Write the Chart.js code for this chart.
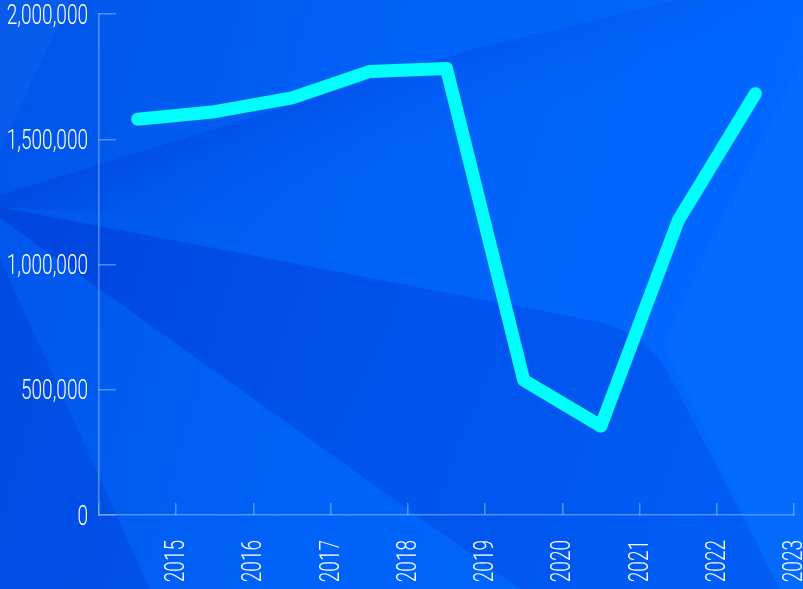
<!DOCTYPE html>
<html>
<head>
<meta charset="utf-8">
<script src="https://cdn.jsdelivr.net/npm/chart.js@4.4.0/dist/chart.umd.min.js"></script>
<style>
  html, body { margin: 0; padding: 0; overflow: hidden; background: #0060f2; }
  #wrap { width: 803px; height: 589px; position: relative; }
</style>
</head>
<body>
<div id="wrap"><canvas id="chart"></canvas></div>
<script>
// points sit half way between the year ticks
const pointYears = [2014.5, 2015.5, 2016.5, 2017.5, 2018.5, 2019.5, 2020.5, 2021.5, 2022.5];
const values = [1580000, 1610000, 1665000, 1770000, 1782000, 538000, 355000, 1175000, 1682000];
const tickYears = [2015, 2016, 2017, 2018, 2019, 2020, 2021, 2022, 2023];
const yTicks = [0, 500000, 1000000, 1500000, 2000000];

const AXIS = 'rgba(150,190,255,0.55)';
const LABEL_FONT = '300 28px Roboto, "DejaVu Sans", sans-serif';
const SQUEEZE = 0.68; // the original uses a condensed face

// background: blue gradient with faceted shapes
const backdrop = {
  id: 'backdrop',
  beforeDraw(chart) {
    const ctx = chart.ctx;
    const w = chart.width, h = chart.height;
    ctx.save();
    const g = ctx.createLinearGradient(0, 0, w, h * 0.4);
    g.addColorStop(0, '#0054e8');
    g.addColorStop(0.5, '#0062f8');
    g.addColorStop(1, '#0068ff');
    ctx.fillStyle = g;
    ctx.fillRect(0, 0, w, h);

    function path(pts) {
      ctx.beginPath();
      ctx.moveTo(pts[0][0], pts[0][1]);
      for (let i = 1; i < pts.length; i++) ctx.lineTo(pts[i][0], pts[i][1]);
      ctx.closePath();
    }
    // top band, darker just under its edge, fading downwards
    const tg = ctx.createLinearGradient(300, 90, 340, 200);
    tg.addColorStop(0, 'rgba(0,45,200,0.28)');
    tg.addColorStop(1, 'rgba(0,90,255,0)');
    path([[0, 195], [470, 50], [803, -30], [803, 260], [0, 207]]);
    ctx.fillStyle = tg;
    ctx.fill();
    path([[0, 150], [70, 0], [0, 0]]);
    ctx.fillStyle = 'rgba(60,140,255,0.12)';
    ctx.fill();
    // dark wedge going to the bottom
    ctx.beginPath();
    ctx.moveTo(0, 207);
    ctx.lineTo(600, 322);
    ctx.quadraticCurveTo(648, 334, 672, 380);
    ctx.lineTo(780, 589);
    ctx.lineTo(520, 589);
    ctx.lineTo(0, 218);
    ctx.closePath();
    const dg = ctx.createLinearGradient(0, 250, 700, 589);
    dg.addColorStop(0, 'rgba(0,40,200,0.38)');
    dg.addColorStop(1, 'rgba(0,40,200,0.18)');
    ctx.fillStyle = dg;
    ctx.fill();
    // left lower strip
    path([[0, 258], [150, 589], [0, 589]]);
    ctx.fillStyle = 'rgba(0,45,200,0.25)';
    ctx.fill();
    // soft lighter area on the right
    ctx.beginPath();
    ctx.moveTo(803, 60);
    ctx.quadraticCurveTo(700, 260, 665, 345);
    ctx.lineTo(780, 589);
    ctx.lineTo(803, 589);
    ctx.closePath();
    ctx.fillStyle = 'rgba(40,130,255,0.12)';
    ctx.fill();
    ctx.restore();
  }
};

// tick labels in a narrow face, placed from the scales
const narrowLabels = {
  id: 'narrowLabels',
  afterDraw(chart) {
    const ctx = chart.ctx;
    const xs = chart.scales.x, ys = chart.scales.y;
    ctx.save();
    ctx.fillStyle = '#ffffff';
    ctx.font = LABEL_FONT;
    ctx.textBaseline = 'middle';
    ctx.textAlign = 'right';
    ys.ticks.forEach(t => {
      ctx.save();
      ctx.translate(ys.right - 11, ys.getPixelForValue(t.value) + 2.5);
      ctx.scale(SQUEEZE, 1);
      ctx.fillText(t.value.toLocaleString('en-US'), 0, 0);
      ctx.restore();
    });
    xs.ticks.forEach(t => {
      if (!tickYears.includes(t.value)) return;
      ctx.save();
      ctx.translate(xs.getPixelForValue(t.value) + 1, xs.top + 25);
      ctx.rotate(-Math.PI / 2);
      ctx.scale(SQUEEZE, 1);
      ctx.fillText(String(t.value), 0, 0);
      ctx.restore();
    });
    ctx.restore();
  }
};

new Chart(document.getElementById('chart'), {
  type: 'line',
  data: {
    datasets: [{
      data: pointYears.map((x, i) => ({ x: x, y: values[i] })),
      borderColor: '#00ffff',
      borderWidth: 13,
      borderCapStyle: 'round',
      borderJoinStyle: 'round',
      pointRadius: 0,
      tension: 0,
      clip: false
    }]
  },
  options: {
    responsive: true,
    maintainAspectRatio: false,
    animation: false,
    layout: { padding: { top: 14, right: 9, left: 0, bottom: 0 } },
    plugins: { legend: { display: false }, tooltip: { enabled: false } },
    scales: {
      x: {
        type: 'linear',
        min: 2014,
        max: 2023,
        afterBuildTicks: s => { s.ticks = [2014].concat(tickYears).map(v => ({ value: v })); },
        afterFit: s => { s.height = 74; s.paddingLeft = 0; s.paddingRight = 0; },
        grid: { drawOnChartArea: false, tickLength: -12, color: AXIS, lineWidth: 1.5 },
        border: { color: AXIS, width: 1.5 },
        ticks: { display: false }
      },
      y: {
        min: 0,
        max: 2000000,
        afterBuildTicks: s => { s.ticks = yTicks.map(v => ({ value: v })); },
        afterFit: s => { s.width = 99; s.paddingTop = 0; s.paddingBottom = 0; },
        grid: { drawOnChartArea: false, tickLength: -17, color: AXIS, lineWidth: 1.5 },
        border: { color: AXIS, width: 1.5 },
        ticks: { display: false }
      }
    }
  },
  plugins: [backdrop, narrowLabels]
});
</script>
</body>
</html>
